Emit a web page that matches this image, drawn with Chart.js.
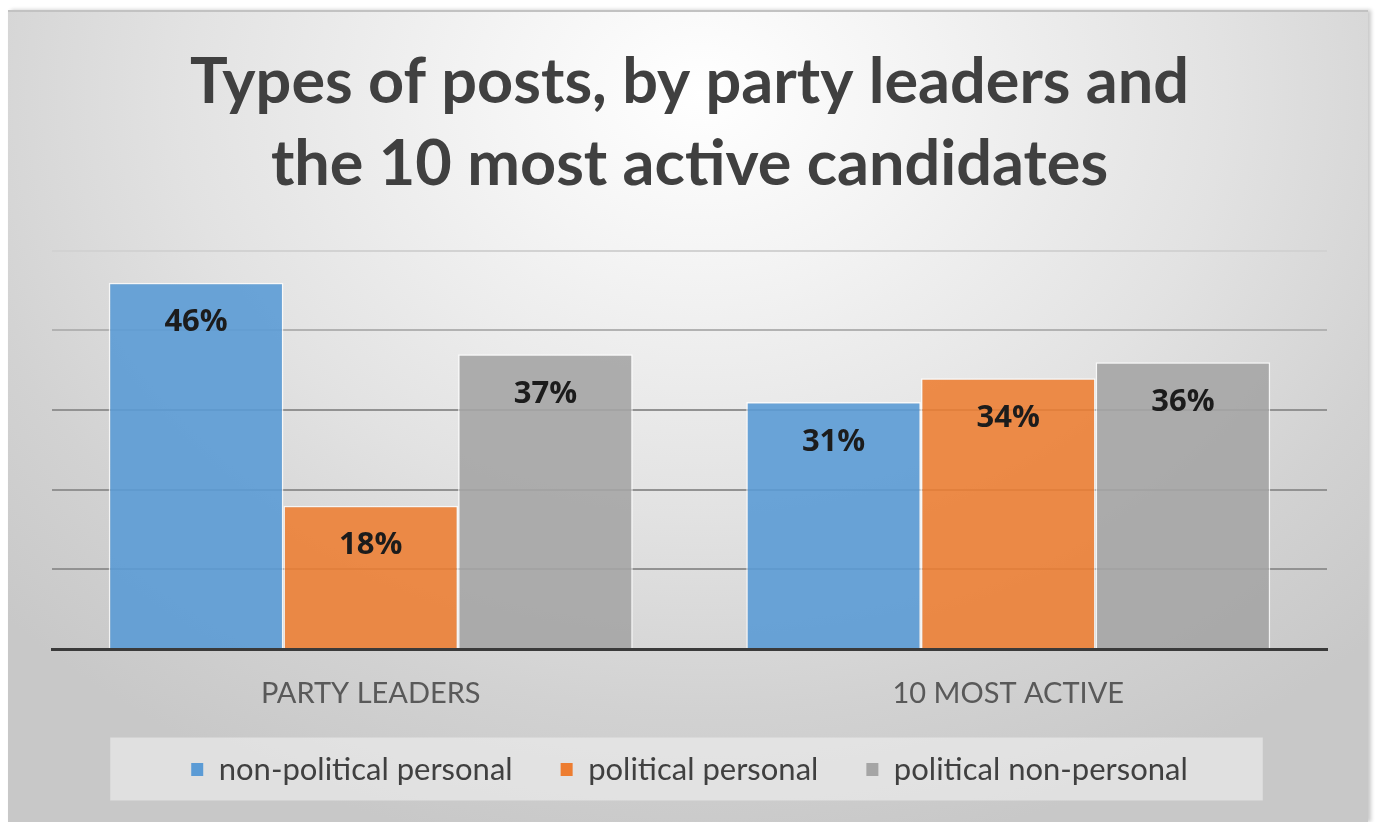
<!DOCTYPE html>
<html>
<head>
<meta charset="utf-8">
<script src="https://cdn.jsdelivr.net/npm/chart.js@4.4.1/dist/chart.umd.min.js"></script>
<style>
    html, body { margin: 0; padding: 0; background: #ffffff; }
    #frame {
        position: absolute;
        left: 8px;
        top: 10px;
        width: 1360px;
        height: 812px;
        background: radial-gradient(ellipse 70% 95% at 51% 10%, #ffffff 0%, #f4f4f4 22%, #e2e2e2 55%, #d2d2d2 80%, #c8c8c8 100%);
        border-top: 2px solid #c2c2c2;
        box-shadow: 3px 0 4px rgba(0, 0, 0, 0.22);
        box-sizing: border-box;
    }
    #chart { display: block; }
</style>
</head>
<body>
<div id="frame">
    <canvas id="chart" width="1360" height="810"></canvas>
</div>
<script>
// Share of post types (%)
const categories = ['PARTY LEADERS', '10 MOST ACTIVE'];
const seriesNames = ['non-political personal', 'political personal', 'political non-personal'];
const nonPoliticalPersonal = [46, 31];
const politicalPersonal = [18, 34];
const politicalNonPersonal = [37, 36];
const yMax = 50;
const yStep = 10;

const seriesColors = ['#5b9bd5', '#ed7d31', '#a5a5a5'];
const barFills = ['rgba(91, 155, 213, 0.9)', 'rgba(237, 125, 49, 0.88)', 'rgba(165, 165, 165, 0.9)'];

// Value labels just inside the top of each bar
const barValueLabels = {
    id: 'barValueLabels',
    afterDatasetsDraw(chart) {
        const ctx = chart.ctx;
        ctx.save();
        ctx.font = "bold 31px 'Open Sans', sans-serif";
        ctx.fillStyle = '#1c1c1c';
        ctx.textAlign = 'center';
        ctx.textBaseline = 'middle';
        chart.data.datasets.forEach((ds, i) => {
            chart.getDatasetMeta(i).data.forEach((bar, j) => {
                ctx.fillText(ds.data[j] + '%', bar.x, bar.y + 40);
            });
        });
        ctx.restore();
    }
};

// Light panel behind the legend row
const legendPanel = {
    id: 'legendPanel',
    beforeDraw(chart) {
        const boxes = chart.legend.legendHitBoxes;
        if (!boxes || !boxes.length) return;
        const first = boxes[0];
        const last = boxes[boxes.length - 1];
        const cy = first.top + first.height / 2;
        const left = first.left - 81;
        const right = last.left + last.width + 75;
        const ctx = chart.ctx;
        ctx.save();
        ctx.fillStyle = 'rgba(240, 240, 240, 0.6)';
        ctx.fillRect(left, cy - 32, right - left, 63);
        ctx.restore();
    }
};

const ctx = document.getElementById('chart').getContext('2d');

new Chart(ctx, {
    type: 'bar',
    data: {
        labels: categories,
        datasets: [nonPoliticalPersonal, politicalPersonal, politicalNonPersonal].map((values, i) => ({
            label: seriesNames[i],
            data: values,
            backgroundColor: barFills[i],
            borderColor: 'rgba(255, 255, 255, 0.75)',
            borderWidth: 1.5,
            borderSkipped: 'bottom',
            categoryPercentage: 0.822,
            barPercentage: 1.0
        }))
    },
    options: {
        responsive: false,
        animation: false,
        layout: {
            padding: { left: 44, right: 41, top: 0, bottom: 27 }
        },
        plugins: {
            title: {
                display: true,
                text: ['Types of posts, by party leaders and', 'the 10 most active candidates'],
                color: '#404040',
                font: { family: "'Lato', sans-serif", size: 63, weight: 'bold', lineHeight: 1.3 },
                padding: { top: 30, bottom: 45 }
            },
            legend: {
                position: 'bottom',
                labels: {
                    color: '#404040',
                    font: { family: "'Lato', sans-serif", size: 31 },
                    boxWidth: 12,
                    boxHeight: 13,
                    padding: 48,
                    generateLabels(chart) {
                        return chart.data.datasets.map((ds, i) => ({
                            text: ds.label,
                            fillStyle: seriesColors[i],
                            strokeStyle: seriesColors[i],
                            lineWidth: 0,
                            fontColor: '#404040',
                            datasetIndex: i
                        }));
                    }
                }
            },
            tooltip: { enabled: false }
        },
        scales: {
            x: {
                grid: { display: false, drawTicks: false },
                border: { display: true, color: '#3a3a3a', width: 3 },
                ticks: {
                    color: '#595959',
                    font: { family: "'Lato', sans-serif", size: 29 },
                    padding: 27
                },
                // category row sits tight against the legend
                afterFit(scale) {
                    scale.height = 57;
                }
            },
            y: {
                min: 0,
                max: yMax,
                ticks: { display: false, stepSize: yStep },
                border: { display: false },
                grid: {
                    drawTicks: false,
                    lineWidth: 2,
                    color(c) {
                        const v = c.tick ? c.tick.value : 0;
                        if (v >= 50) return '#d2d2d2';
                        if (v >= 40) return '#b2b2b2';
                        return '#929292';
                    }
                }
            }
        }
    },
    plugins: [legendPanel, barValueLabels]
});
</script>
</body>
</html>
